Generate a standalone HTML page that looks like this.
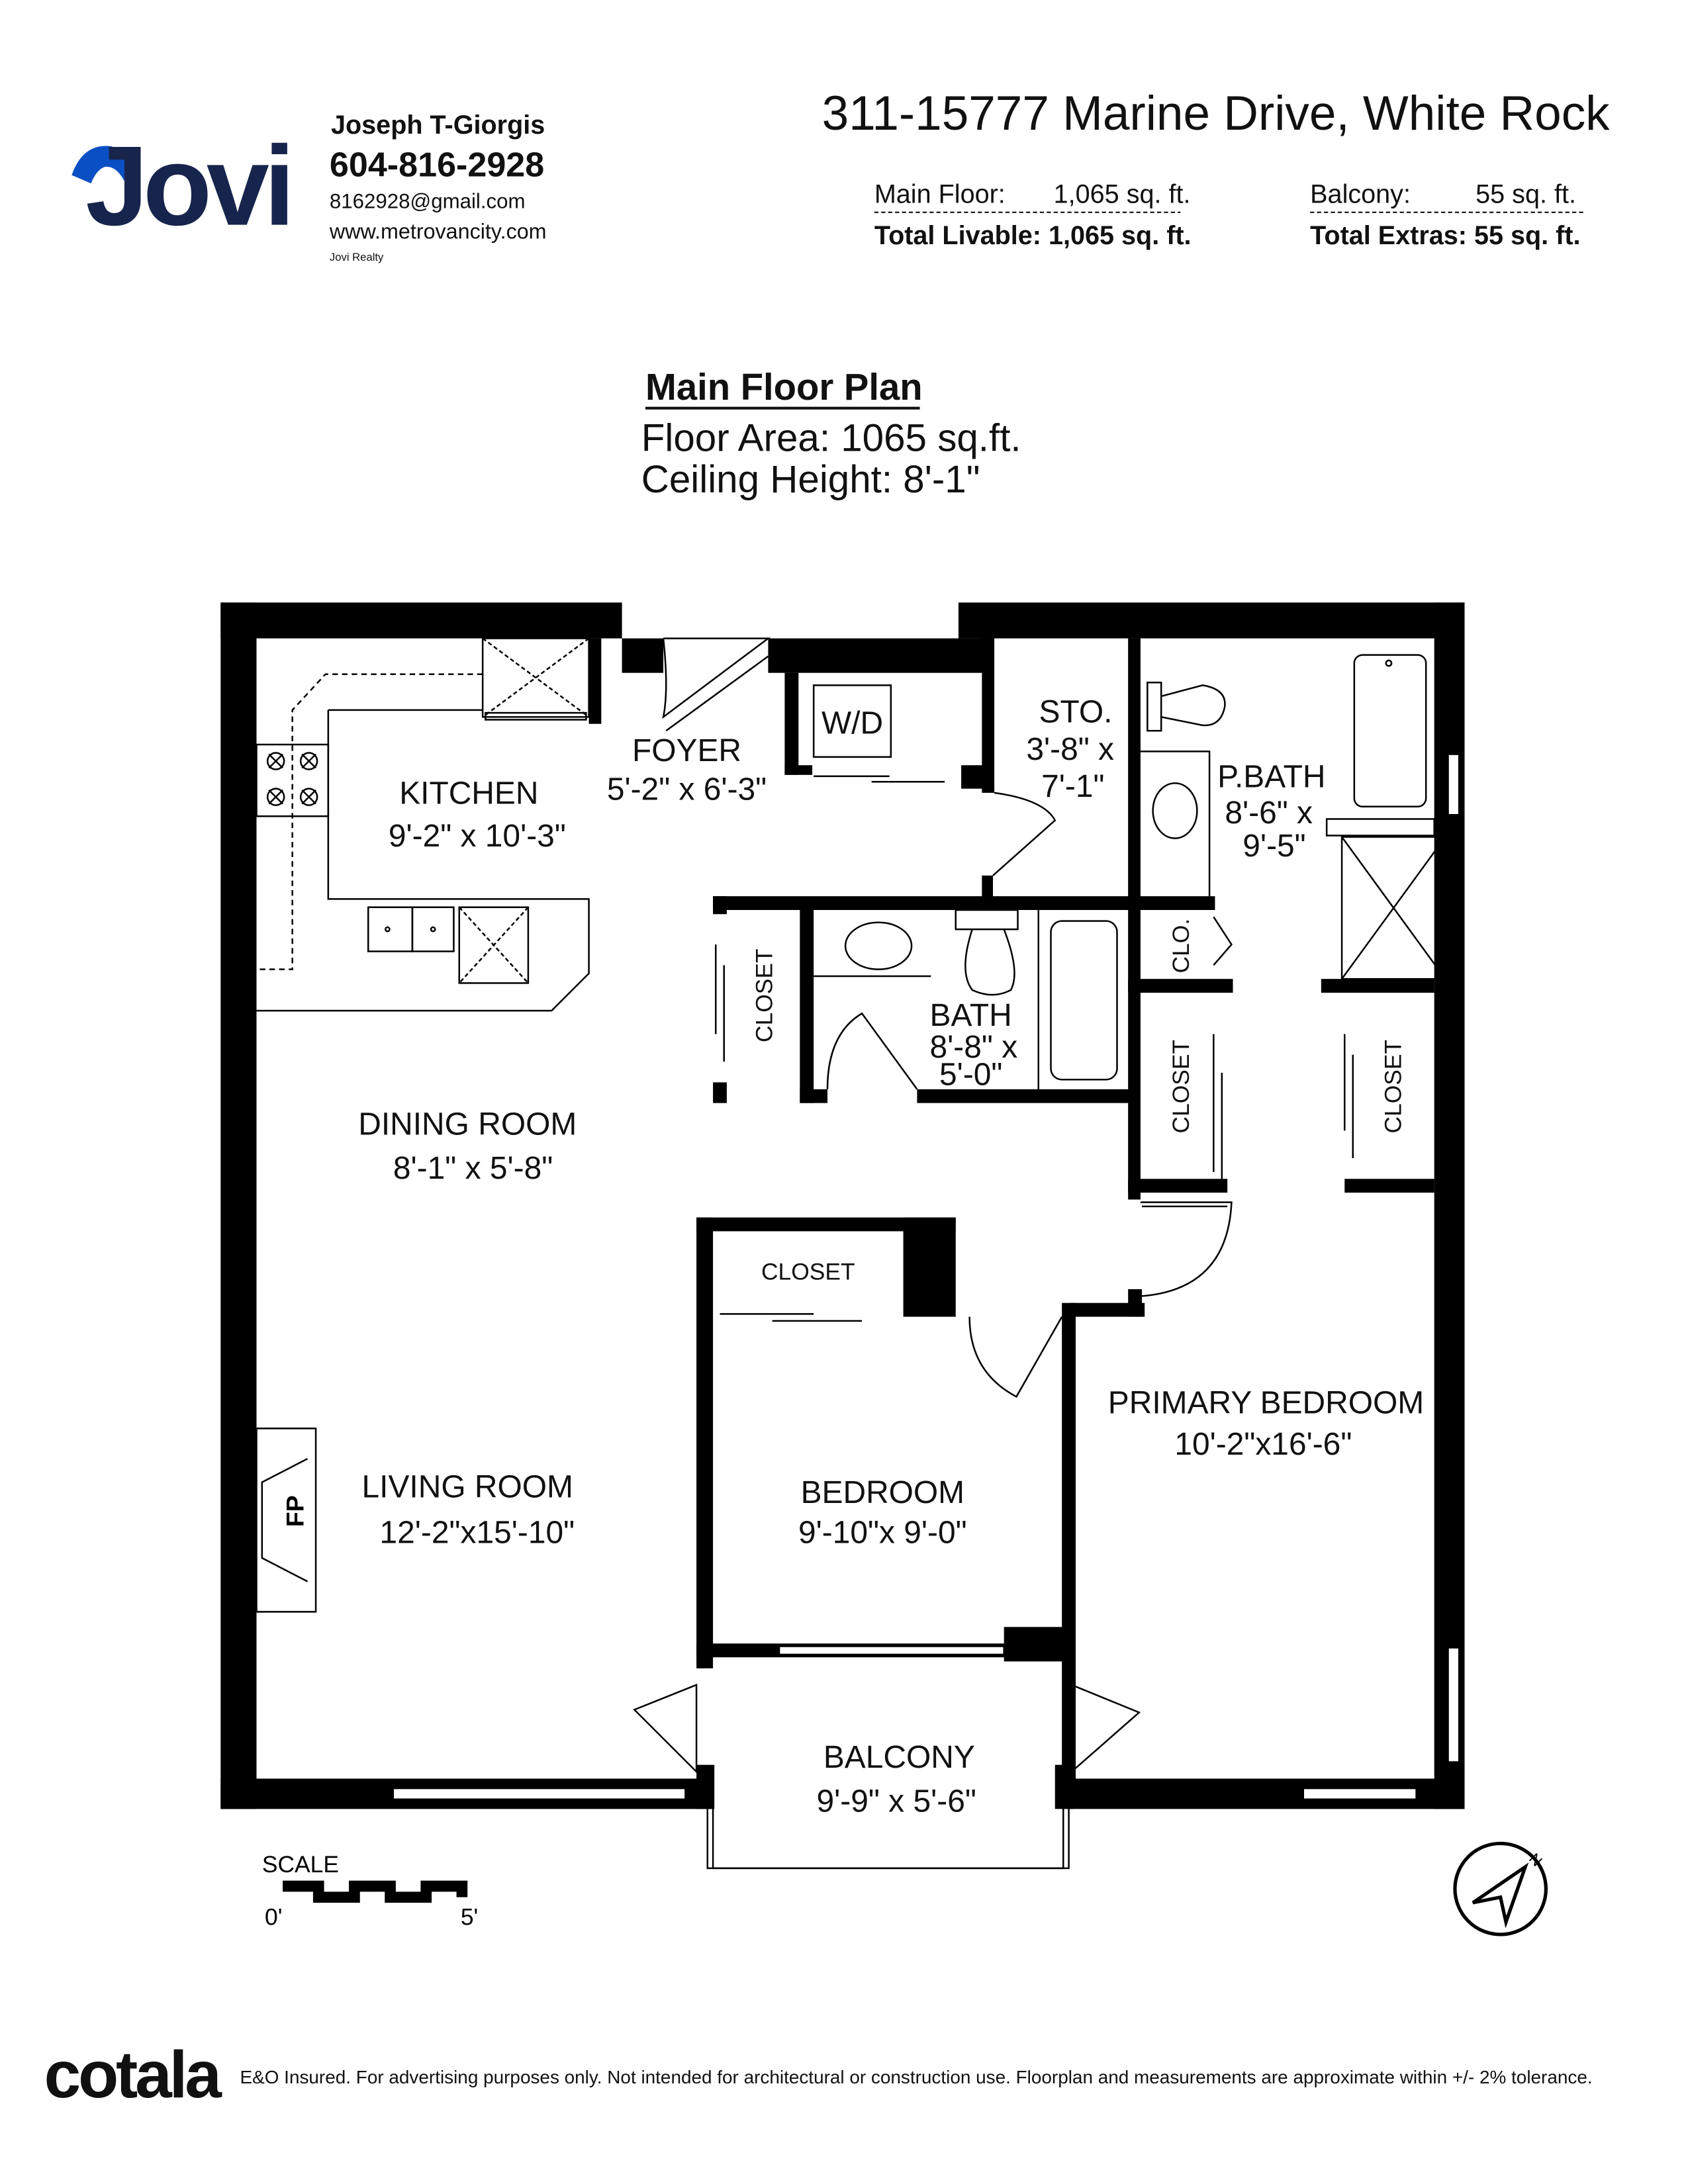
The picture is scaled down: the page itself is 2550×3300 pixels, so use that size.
<!DOCTYPE html>
<html><head><meta charset="utf-8"><style>
html,body{margin:0;padding:0;background:#fff}
svg{display:block}
text{font-family:"Liberation Sans",sans-serif}
</style></head><body>
<svg width="2550" height="3300" viewBox="0 0 1224 1584" xmlns="http://www.w3.org/2000/svg">
<rect width="1224" height="1584" fill="#fff"/>
<!-- Logo -->
<path d="M52 127 Q60 104 80 106 Q96 110 100 122 L90 131 Q84 120 76 121 Q70 123 66 133 Z" fill="#0b4fc4"/>
<text x="62" y="163" font-size="82" font-weight="bold" fill="#17244c" letter-spacing="-4">Jovi</text>
<text x="240" y="97" font-size="19" font-weight="bold" fill="#111">Joseph T-Giorgis</text>
<text x="239" y="128" font-size="25" font-weight="bold" fill="#111">604-816-2928</text>
<text x="239" y="151" font-size="15" fill="#111">8162928@gmail.com</text>
<text x="239" y="173" font-size="15.5" fill="#111">www.metrovancity.com</text>
<text x="239" y="189" font-size="8" fill="#111">Jovi Realty</text>
<!-- Address -->
<text x="596" y="94" font-size="35" fill="#111">311-15777 Marine Drive, White Rock</text>
<text x="634" y="147" font-size="19" fill="#111">Main Floor:</text>
<text x="764" y="147" font-size="19" fill="#111">1,065 sq. ft.</text>
<line x1="634" y1="154" x2="856" y2="154" stroke="#111" stroke-dasharray="3,2"/>
<text x="634" y="177" font-size="19" font-weight="bold" fill="#111">Total Livable: 1,065 sq. ft.</text>
<text x="950" y="147" font-size="19" fill="#111">Balcony:</text>
<text x="1070" y="147" font-size="19" fill="#111">55 sq. ft.</text>
<line x1="950" y1="154" x2="1150" y2="154" stroke="#111" stroke-dasharray="3,2"/>
<text x="950" y="177" font-size="19" font-weight="bold" fill="#111">Total Extras: 55 sq. ft.</text>
<!-- Title -->
<text x="468" y="290" font-size="27" font-weight="bold" fill="#111">Main Floor Plan</text>
<line x1="468" y1="296" x2="667" y2="296" stroke="#111" stroke-width="2"/>
<text x="465" y="327" font-size="28" fill="#111">Floor Area: 1065 sq.ft.</text>
<text x="465" y="357" font-size="28" fill="#111">Ceiling Height: 8'-1"</text>

<g fill="#000">
<rect x="160" y="437" width="291" height="26"/>
<rect x="695" y="437" width="367" height="26"/>
<rect x="451" y="463" width="30" height="25"/>
<rect x="557" y="463" width="163" height="25"/>
<rect x="160" y="437" width="26" height="875"/>
<rect x="1040" y="437" width="22" height="875"/>
<rect x="160" y="1290" width="357" height="22"/>
<rect x="775" y="1290" width="287" height="22"/>
<rect x="427" y="463" width="9" height="62"/>
<rect x="569" y="488" width="10" height="74"/>
<rect x="569" y="555" width="20" height="7"/>
<rect x="697" y="555" width="23" height="17"/>
<rect x="712" y="463" width="9" height="112"/>
<rect x="712" y="635" width="8" height="20"/>
<rect x="818" y="463" width="9" height="407"/>
<rect x="517" y="650" width="364" height="10"/>
<rect x="517" y="650" width="10" height="13"/>
<rect x="517" y="785" width="10" height="15"/>
<rect x="580" y="660" width="10" height="140"/>
<rect x="580" y="790" width="20" height="10"/>
<rect x="665" y="790" width="160" height="10"/>
<rect x="818" y="710" width="76" height="10"/>
<rect x="818" y="855" width="72" height="10"/>
<rect x="958" y="710" width="82" height="10"/>
<rect x="975" y="855" width="65" height="10"/>
<rect x="818" y="935" width="10" height="20"/>
<rect x="775" y="945" width="55" height="10"/>
<rect x="505" y="883" width="188" height="10"/>
<rect x="655" y="883" width="38" height="72"/>
<rect x="505" y="883" width="12" height="327"/>
<rect x="505" y="1192" width="270" height="10"/>
<rect x="728" y="1180" width="47" height="25"/>
<rect x="770" y="945" width="10" height="345"/>
<rect x="505" y="1280" width="13" height="32"/>
<rect x="765" y="1280" width="13" height="32"/>
</g>
<g fill="none" stroke="#000" stroke-width="1.2">
<rect x="285" y="1297" width="212" height="8" fill="#fff"/>
<rect x="945" y="1297" width="82" height="8" fill="#fff"/>
<rect x="1050" y="547" width="8" height="44" fill="#fff"/>
<rect x="1050" y="1195" width="8" height="83" fill="#fff"/>
<rect x="565" y="1194" width="163" height="6" fill="#fff"/>
<path d="M513 1312 V1355 H775 V1312"/>
<path d="M517 1305 V1355 H771 V1305"/>
<rect x="350" y="463" width="77" height="57"/>
<line x1="350" y1="463" x2="427" y2="520" stroke-dasharray="3,2"/>
<line x1="427" y1="463" x2="350" y2="520" stroke-dasharray="3,2"/>
<rect x="352" y="517" width="73" height="5"/>
<path d="M238 515 H350 M238 515 V652 H427 V706 L400 733 H186" />
<path d="M350 489 H236 L212 515 V703 H186" stroke-dasharray="4,3"/>
<rect x="186" y="540" width="52" height="52"/>
<circle cx="200" cy="552" r="6"/><circle cx="224" cy="552" r="6"/>
<circle cx="200" cy="578" r="6"/><circle cx="224" cy="578" r="6"/>
<path d="M195 547 l10 10 M205 547 l-10 10 M219 547 l10 10 M229 547 l-10 10 M195 573 l10 10 M205 573 l-10 10 M219 573 l10 10 M229 573 l-10 10"/>
<rect x="267" y="658" width="32" height="32"/><rect x="299" y="658" width="30" height="32"/>
<circle cx="281" cy="674" r="1.5"/><circle cx="314" cy="674" r="1.5"/>
<rect x="333" y="658" width="50" height="55"/>
<path d="M333 658 L383 713 M383 658 L333 713" stroke-dasharray="3,2"/>
<path d="M481 463 H557 L481 520 Q485 500 481 463" />
<path d="M483 530 L557 476"/>
<rect x="590" y="497" width="56" height="52"/>
<path d="M590 563 H645 M632 567 H685"/>
<path d="M721 575 Q757 580 765 595 L720 635"/>
<rect x="982" y="475" width="52" height="110" rx="6"/>
<circle cx="1007" cy="481" r="2"/>
<rect x="962" y="594" width="78" height="12"/>
<rect x="973" y="607" width="75" height="103"/>
<path d="M973 607 L1048 710 M1048 607 L973 710"/>
<path d="M827 545 H877 V650"/>
<ellipse cx="852" cy="588" rx="16" ry="20"/>
<rect x="832" y="495" width="10" height="35"/>
<path d="M842 505 L872 497 Q890 500 888 513 Q885 527 872 526 L842 520"/>
<path d="M519 685 V750 M525 700 V770"/>
<path d="M880 665 L893 685 L880 700"/>
<path d="M880 750 V850 M886 778 V858"/>
<path d="M975 750 V820 M981 765 V840"/>
<path d="M590 708 H675"/>
<ellipse cx="637" cy="686" rx="24" ry="17"/>
<rect x="693" y="660" width="45" height="14"/>
<path d="M705 674 Q695 705 705 718 Q720 725 733 718 Q740 705 728 674"/>
<path d="M753 660 V790"/>
<rect x="762" y="668" width="48" height="115" rx="8"/>
<path d="M600 790 Q600 750 625 735 L665 790"/>
<path d="M827 872 H893 Q890 935 828 940"/>
<path d="M828 875 L890 875"/>
<path d="M703 955 Q703 995 737 1013 L770 955"/>
<path d="M522 953 H590 M560 958 H625"/>
<path d="M505 1222 L460 1240 L505 1285 Z"/>
<path d="M777 1222 L826 1242 L777 1285 Z"/>
<rect x="186" y="1036" width="43" height="133"/>
<path d="M223 1058 L190 1075 V1130 L223 1147"/>
</g>
<text x="216" y="1112" font-size="18" font-weight="bold" transform="rotate(-90 210 1102)" text-anchor="middle">FP</text>
<g font-size="23" fill="#111" text-anchor="middle">
<text x="340" y="583">KITCHEN</text><text x="346" y="614">9'-2" x 10'-3"</text>
<text x="498" y="552">FOYER</text><text x="498" y="580">5'-2" x  6'-3"</text>
<text x="618" y="532">W/D</text>
<text x="780" y="524">STO.</text><text x="776" y="551">3'-8" x</text><text x="778" y="578">7'-1"</text>
<text x="922" y="571">P.BATH</text><text x="920" y="597">8'-6" x</text><text x="924" y="621">9'-5"</text>
<text x="704" y="744">BATH</text><text x="706" y="767">8'-8" x</text><text x="704" y="787">5'-0"</text>
<text x="339" y="823">DINING ROOM</text><text x="343" y="855">8'-1" x  5'-8"</text>
<text x="339" y="1086">LIVING ROOM</text><text x="346" y="1119">12'-2"x15'-10"</text>
<text x="640" y="1090">BEDROOM</text><text x="640" y="1119">9'-10"x  9'-0"</text>
<text x="918" y="1025">PRIMARY BEDROOM</text><text x="916" y="1055">10'-2"x16'-6"</text>
<text x="652" y="1282">BALCONY</text><text x="650" y="1314">9'-9"  x  5'-6"</text>
</g>
<g font-size="17" fill="#111" text-anchor="middle">
<text x="586" y="928">CLOSET</text>
<text transform="translate(560 722) rotate(-90)">CLOSET</text>
<text transform="translate(862 788) rotate(-90)">CLOSET</text>
<text transform="translate(1016 788) rotate(-90)">CLOSET</text>
<text transform="translate(862 686) rotate(-90)">CLO.</text>
</g>
<text x="190" y="1358" font-size="17">SCALE</text>
<path d="M205 1368 H231 V1376 H257 V1368 H283 V1376 H309 V1368 H335 V1376" fill="none" stroke="#000" stroke-width="8"/>
<text x="192" y="1396" font-size="17">0'</text><text x="334" y="1396" font-size="17">5'</text>
<circle cx="1088" cy="1370" r="33" fill="none" stroke="#000" stroke-width="2.5"/>
<path d="M1068 1380 L1106 1354 L1092 1394 L1088 1376 Z" fill="none" stroke="#000" stroke-width="2.5"/>
<text x="1110" y="1352" font-size="11" transform="rotate(45 1113 1348)">N</text>
<text x="32" y="1521" font-size="48" font-weight="bold" fill="#111" letter-spacing="-2">cotala</text>
<text x="174" y="1511" font-size="13.4" fill="#111">E&amp;O Insured. For advertising purposes only. Not intended for architectural or construction use. Floorplan and measurements are approximate within +/- 2% tolerance.</text>
</svg>
</body></html>
